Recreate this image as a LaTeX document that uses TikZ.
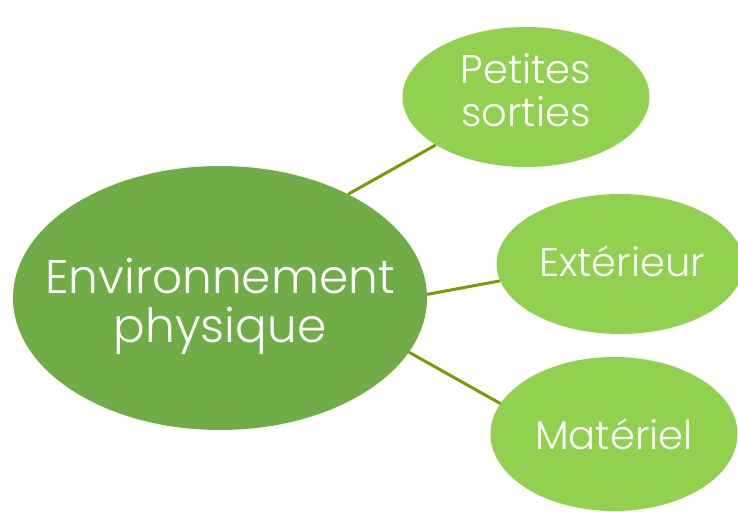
\documentclass[tikz,border=0pt]{standalone}
\usepackage{fontspec}
\setmainfont{Poppins Light}
\usetikzlibrary{shapes.geometric}
\definecolor{darkleaf}{HTML}{70AD47}
\definecolor{lightleaf}{HTML}{92D050}
\definecolor{stemline}{HTML}{7A9A01}

\begin{document}
\begin{tikzpicture}[x=1pt, y=-1pt,
  hub/.style={ellipse, fill=darkleaf, inner sep=0pt,
    minimum width=414pt, minimum height=264pt},
  leaf/.style={ellipse, fill=lightleaf, inner sep=0pt,
    minimum width=247pt, minimum height=140pt},
  bigtext/.style={text=white, align=center, inner sep=0pt,
    font=\fontsize{47}{49}\selectfont},
  smalltext/.style={text=white, align=center, inner sep=0pt,
    font=\fontsize{40}{43}\selectfont},
  stem/.style={draw=stemline, line width=3pt}]
  \useasboundingbox (0,0) rectangle (738,511);
  \node[hub] (env) at (220,298) {};
  \node[leaf] (sorties) at (526,97) {};
  \node[leaf] (ext) at (620,264) {};
  \node[leaf, minimum height=154pt] (mat) at (614,434) {};
  \node[bigtext] (envtext) at ([yshift=-8pt]env.center) {Environnement\\physique};
  \node[smalltext] (sortiestext) at ([yshift=7pt]sorties.center) {Petites\\sorties};
  \node[smalltext] (exttext) at ([xshift=2pt, yshift=3pt]ext.center) {Extérieur};
  \node[smalltext] (mattext) at (mat.center) {Matériel};
  \draw[stem] (env.39) -- (sorties.208);
  \draw[stem] (env.1) -- (ext.188);
  \draw[stem] (env.-16) -- (mat.165);
\end{tikzpicture}
\end{document}
